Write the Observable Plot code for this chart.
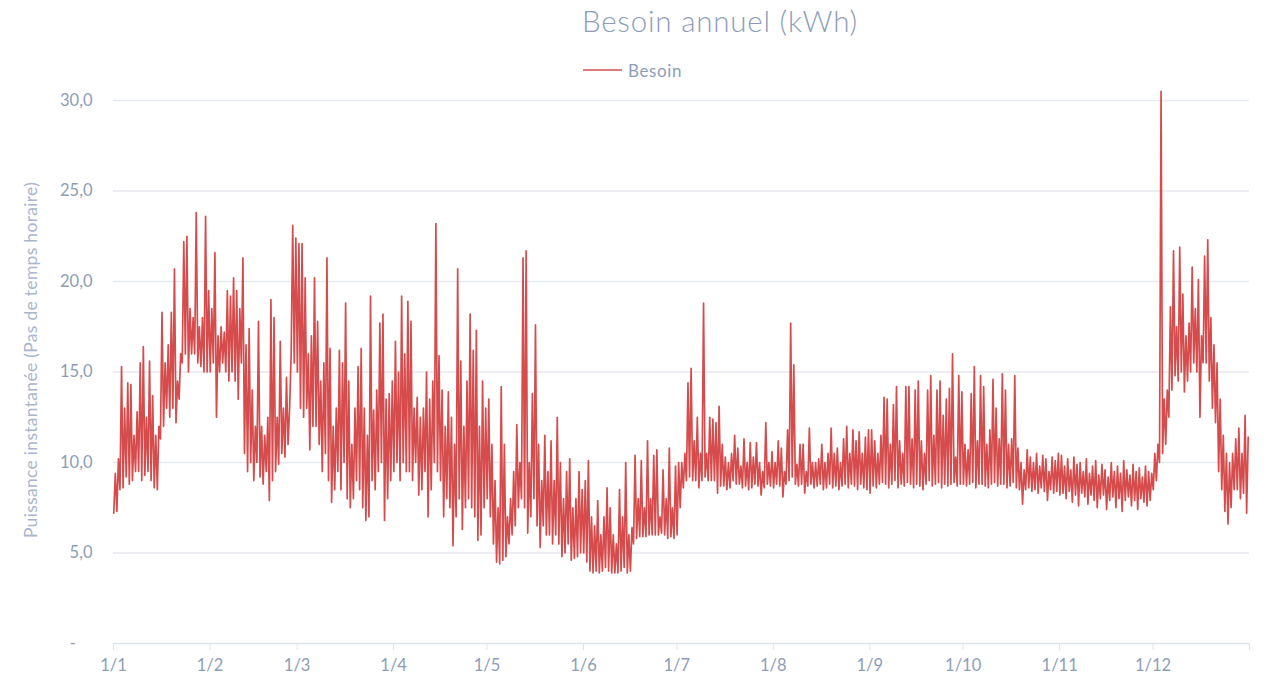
<!DOCTYPE html>
<html><head><meta charset="utf-8">
<script src="https://cdn.jsdelivr.net/npm/d3@7"></script>
<script src="https://cdn.jsdelivr.net/npm/@observablehq/plot@0.6"></script>
<style>
body{margin:0;background:#fff;font-family:Lato,"Open Sans",sans-serif;}
#wrap{position:relative;width:1264px;height:678px;overflow:hidden;}
#title{position:absolute;left:720px;top:3px;transform:translateX(-50%);font-size:29.5px;color:#8d9db8;white-space:nowrap;font-weight:300;letter-spacing:0.8px;z-index:2;}
#legend{position:absolute;left:583px;top:60px;height:20px;display:flex;align-items:center;color:#8d9db8;font-size:17px;letter-spacing:0.6px;z-index:2;}
#legend .sw{width:39px;height:2px;background:#e07a7a;margin-right:6px;}
#ylab{position:absolute;left:30px;top:360px;transform:translate(-50%,-50%) rotate(-90deg);white-space:nowrap;font-size:17.5px;letter-spacing:0.3px;color:#a9b6cc;z-index:2;}
#chart{position:absolute;left:0;top:88px;z-index:1;}
</style></head>
<body><div id="wrap">
<div id="title">Besoin annuel (kWh)</div>
<div id="legend"><div class="sw"></div><span>Besoin</span></div>
<div id="ylab">Puissance instantanée (Pas de temps horaire)</div>
<div id="chart"></div>
</div>
<script>
const year = 2021;
const monthLabels = ["1/1","1/2","1/3","1/4","1/5","1/6","1/7","1/8","1/9","1/10","1/11","1/12",""];
const yTicks = [0,5,10,15,20,25,30];
// daily low (night) and daily high (peak) values, kW
const dailyLow = [
 7.2,7.3,8.5,8.6,9.2,8.8,9,9.5,9.5,9,9.3,9.5,9,8.6,8.5,11.3,12,13,12.5,13,12.2,13.5,15.5,16,15,16,16,15.5,15.3,15,15,
 15,15.5,12.5,15,15.5,15,14.5,15,14.5,13.5,15.5,10.5,9.5,10,9,10,9.2,8.8,9.5,7.9,9,9.5,9.9,10.5,10.3,11,16,15.5,
 15,13,12.5,13,10.7,12,12,11,9.5,10.5,9,7.8,8.5,9.5,8.5,10,8,7.5,8,9,8.5,7.5,6.8,7,9,8.5,9.5,10,6.8,8,9,
 9.5,10,9,10,9.5,9.5,9,10,8.2,8.5,9.5,7,8.5,10,9.5,9,7,8,7.5,5.4,7,8,6.3,7.5,8,7.5,7,5.7,6,7.5,
 8,7,5.5,4.5,4.4,4.6,4.8,5.5,6,6.5,7.5,8,7.5,6.1,7,8,6.5,5.3,6.5,6,6,5.5,6,5.5,4.8,5,5.5,4.6,4.7,4.8,5,
 5,4.5,4,3.9,4,3.9,4,4.2,4,3.9,3.9,3.9,4,4.2,3.9,4,5.5,5.8,5.9,5.9,5.9,6,6,6,6,6.1,6,5.8,5.9,5.8,
 6,7.5,8.6,9,9.2,9,9,8.6,9,9.2,9,9,9,8.3,8.7,8.7,8.5,8.6,9,8.8,8.8,8.6,8.7,8.5,8.6,8.8,8.7,8.2,8.6,8.8,8.7,
 8.6,8.8,8.7,8.1,8.8,9,9.2,8.8,8.7,8.8,8.3,8.7,8.8,8.6,8.7,8.8,8.5,8.6,8.8,8.6,8.7,8.5,8.7,8.8,8.6,8.8,8.7,8.5,8.8,8.6,8.5,
 8.3,8.7,8.6,8.8,8.9,8.8,8.6,8.8,9,8.6,8.8,8.7,8.9,8.8,8.6,8.8,8.7,8.5,8.8,9,8.7,8.8,8.9,8.6,8.8,8.7,8.8,8.9,8.7,8.8,
 8.8,8.7,8.8,8.9,8.6,8.8,8.8,8.7,8.6,8.8,8.9,8.7,8.8,8.8,8.6,8.7,8.9,8.6,8.5,7.7,8.5,8.6,8.4,8.5,8.3,8.6,8.4,7.9,8.5,8.3,8.4,
 8.2,8.3,8.0,8.4,7.8,8.2,7.6,8.3,8.1,7.7,8.2,7.9,7.5,8.0,8.2,7.4,7.9,8.1,7.5,8.0,7.3,7.9,8.1,7.6,7.9,7.4,8.0,7.8,7.6,7.9,
 8.5,9,10,10.5,11,12.5,14,14.8,14.5,15,13.9,14.5,15,15.5,15,12.5,15.5,15.5,14.5,13,12.2,9.5,8.5,7.3,6.6,7.5,8.5,8.5,8,8.3,7.2
];
const dailyHigh = [
 9.4,10.2,15.3,13,14.4,14.3,11.5,12.8,15.5,16.4,12.5,15.6,13.7,11.5,12,18.3,15.5,16.5,18.3,20.7,14.5,16,22.2,22.5,18.5,18,23.8,17.5,18,23.6,19.5,
 18.5,21.6,17,17.5,17.2,19.5,19.2,20.2,19.5,18.5,21.3,16.5,17.4,14,12,17.8,12,11.5,12.5,19,18,12.5,16.7,13,14.7,13,23.1,22.4,
 22.1,22.1,20.2,16,17,20.2,17.8,14.5,15.5,21.3,16.3,12,13,16.2,15.5,18.8,14.5,11,13,15.3,16.3,13,11.5,19.2,12.9,14,17.7,18.2,13.5,13.8,14.5,
 16.7,15,19.2,16,18.9,17.8,13,13.6,12.5,13,15,13.5,14.5,23.2,15.9,14,12,13.9,12.5,11,20.7,15.6,12,14.5,18.2,16.2,17.3,12,14.5,13,
 13.5,11,9,7.5,14.2,11,7,8,9.5,12.1,10,21.3,21.7,10,13.8,17.6,11,9,11.5,9.5,11.2,9,12.5,10,8,9.5,10.2,7.5,8,9.5,8.5,
 9,10.1,7,6.5,7.9,6,7,8.6,7.5,6,5.5,8.5,7,10,6,6.4,10.4,8,10.1,7.5,11.2,8,10.4,10.7,7,9.6,8,10.8,7.5,9.8,
 10,10,10.5,14.4,15.2,11.2,12.5,10.5,18.8,10.5,12.5,12.4,12.2,13.1,11,10.3,10,10.5,11.5,10.8,9.8,11.3,10,11.1,10.3,11.1,10,9.5,12.2,10,10.6,
 10,11.2,10.8,9.5,11.8,17.7,15.4,9.9,11,11,9.5,11.9,10,10,10.2,11,10,10.5,11.9,10.5,10.8,10,11.3,12,10.5,11.8,11.2,11.7,10.5,11.4,11.8,
 11.8,11.2,10.5,11.5,13.6,13.5,11,13.2,14.2,11.2,10.5,14.2,14.2,11.3,14,14.5,11.2,10.5,14,14.8,11.5,14,14.5,12.6,13.5,14.1,16,10.3,14.8,13.9,
 11,10.7,13.8,15.3,11.2,14.8,14.2,11,11.8,14.6,13,11.3,14.9,14,11,11.3,14.8,10.8,10,9.6,10.7,10.3,10,10.5,9.8,10.4,10.2,9.5,10.3,10.1,10.5,
 10.4,9.8,10.2,9.6,10.3,9.9,10,9.5,10.2,9.4,9.8,10.1,9.3,9.9,9.6,9.2,10,9.5,9.8,9.4,10.1,9.6,9.3,9.9,9.5,9.7,9.2,9.8,9.5,9.4,
 10.5,11,30.5,13.5,14,18.6,21.7,17.5,21.9,19.3,17,17.7,20.8,18.5,20.1,17,21.4,22.3,18,16.5,15.5,13.5,11.5,10.5,10,10.5,11.3,11.9,10.5,12.6,11.4
];

const points = [];
dailyLow.forEach((lo, d) => {
  points.push({t: new Date(Date.UTC(year, 0, 1 + d, 2)), v: lo});
  points.push({t: new Date(Date.UTC(year, 0, 1 + d, 14)), v: dailyHigh[d]});
});
const monthStarts = monthLabels.map((_, i) => new Date(Date.UTC(year, i, 1)));

const chart = Plot.plot({
  width: 1264, height: 590,
  marginLeft: 113, marginRight: 15, marginTop: 12, marginBottom: 35,
  style: {fontFamily: "Lato, 'Open Sans', sans-serif", fontSize: "16.5px", color: "#8d9db8", background: "transparent"},
  x: {type: "utc", domain: [monthStarts[0], monthStarts[12]], label: null},
  y: {domain: [0, 30], label: null},
  marks: [
    Plot.ruleY(yTicks.filter(v => v > 0), {stroke: "#e6e9ef", strokeWidth: 1.5}),
    Plot.ruleY([0], {stroke: "#dfe3ea", strokeWidth: 1.5}),
    Plot.axisY({ticks: yTicks, tickSize: 0, tickPadding: 21, label: null,
      tickFormat: v => v === 0 ? "-\u2002\u2002" : v.toFixed(1).replace(".", ",")}),
    Plot.axisX({ticks: monthStarts, tickSize: 7, tickPadding: 9, stroke: "#dfe3ea", label: null,
      tickFormat: d => monthLabels[monthStarts.findIndex(m => +m === +d)]}),
    Plot.line(points, {x: "t", y: "v", stroke: "#d64c4c", strokeWidth: 1.7, clip: false})
  ]
});
document.getElementById("chart").appendChild(chart);
</script>
</body></html>
